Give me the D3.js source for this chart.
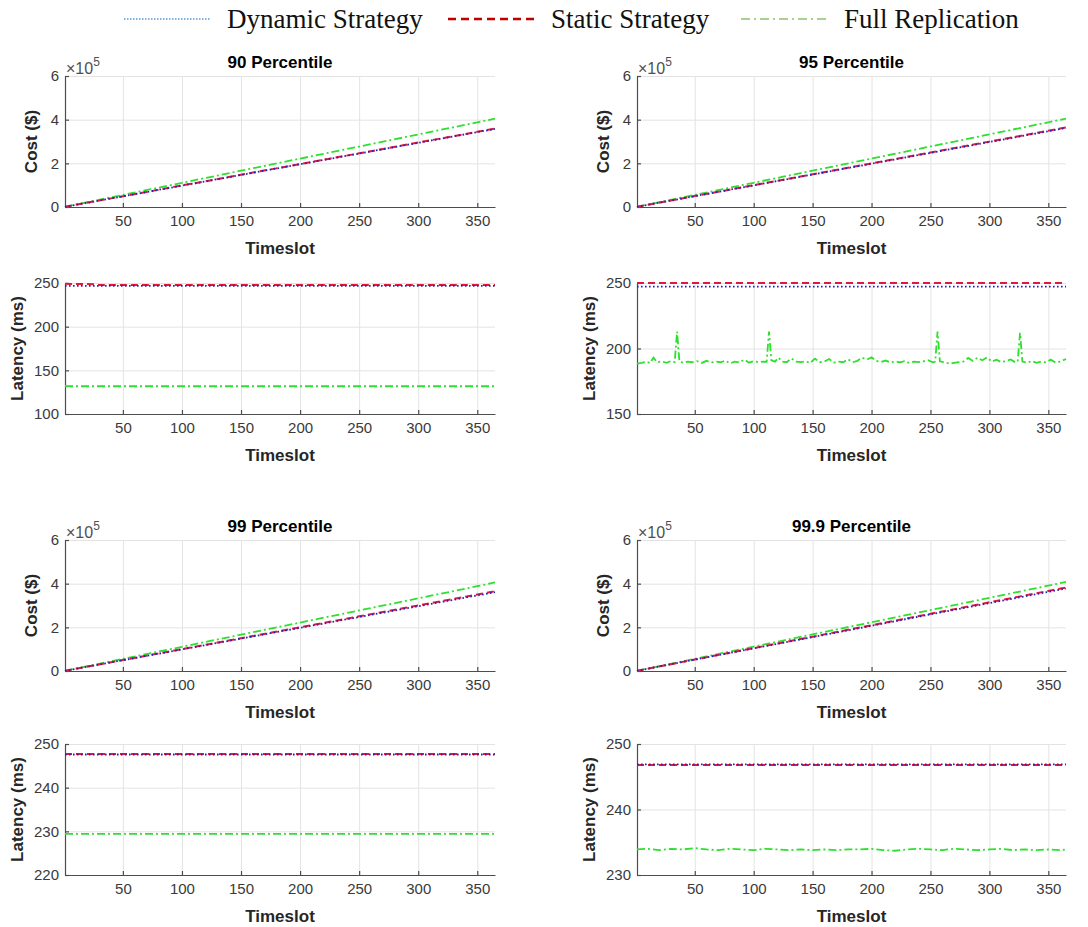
<!DOCTYPE html>
<html>
<head>
<meta charset="utf-8">
<script src="https://cdn.jsdelivr.net/npm/d3@7"></script>
<style>
  body { margin: 0; background: #fff; }
  svg { display: block; }
  .axis text { font-family: 'Liberation Sans', Arial, sans-serif; font-size: 15px; fill: #3a3a3a; }
  .axis path, .axis line { stroke: #4d4d4d; stroke-width: 1.2; }
  .grid line { stroke: #e3e3e3; }
  .grid path { display: none; }
  .grid text { display: none; }
  .lbl { font-family: 'Liberation Sans', Arial, sans-serif; font-weight: bold; font-size: 17px; fill: #262626; }
  .title { font-family: 'Liberation Sans', Arial, sans-serif; font-weight: bold; font-size: 17px; fill: #000; }
  .legend text { font-family: 'Palatino Linotype', 'Book Antiqua', 'Liberation Serif', serif; font-size: 27px; fill: #111; }
</style>
</head>
<body>
<svg id="chart" width="1088" height="927"></svg>
<script>
const titles = ['90 Percentile', '95 Percentile', '99 Percentile', '99.9 Percentile'];
const legendNames = ['Dynamic Strategy', 'Static Strategy', 'Full Replication'];

// cumulative cost, read every 25 timeslots
const costSlots = [1, 25, 50, 75, 100, 125, 150, 175, 200, 225, 250, 275, 300, 325, 350, 365];
const costDyn90 = [900, 24300, 48800, 73200, 97900, 122300, 146900, 171400, 196000, 220400, 244900, 269500, 294000, 318400, 343000, 357500];
const costSta90 = [1000, 24700, 49300, 73900, 98600, 123000, 147600, 172200, 196900, 221400, 245900, 270500, 295100, 319700, 344200, 359000];
const costFull90 = [1100, 27700, 55400, 83000, 110800, 138500, 166200, 193900, 221600, 249300, 277000, 304700, 332400, 360100, 387800, 404500];
const costDyn95 = [900, 24700, 49500, 74300, 99100, 123900, 148700, 173500, 198300, 223100, 247900, 272700, 297500, 322300, 347100, 362000];
const costSta95 = [1000, 25000, 50000, 74900, 99900, 124800, 149800, 174700, 199700, 224600, 249600, 274500, 299500, 324400, 349400, 364500];
const costFull95 = [1100, 27700, 55400, 83100, 110900, 138600, 166300, 194000, 221700, 249500, 277200, 304900, 332600, 360300, 388000, 405000];
const costDyn99 = [900, 24700, 49400, 74100, 98900, 123600, 148300, 173000, 197800, 222500, 247200, 271900, 296700, 321400, 346100, 361000];
const costSta99 = [1000, 25000, 50100, 75100, 100100, 125100, 150200, 175200, 200200, 225200, 250300, 275300, 300300, 325300, 350400, 365500];
const costFull99 = [1100, 27700, 55500, 83200, 110900, 138700, 166400, 194100, 221900, 249600, 277300, 305100, 332800, 360500, 388300, 405500];
const costDyn999 = [1000, 25900, 51800, 77700, 103600, 129500, 155400, 181300, 207200, 233100, 259000, 284900, 310800, 336700, 362600, 378000];
const costSta999 = [1000, 26200, 52400, 78600, 104800, 131000, 157200, 183400, 209600, 235800, 262000, 288200, 314400, 340600, 366800, 382000];
const costFull999 = [1100, 27900, 55800, 83700, 111700, 139600, 167500, 195400, 223300, 251200, 279200, 307100, 335000, 362900, 390800, 408000];

// latency
const flatSlots = [1, 365];
const latDyn90 = [246.8, 246.8];
const staSlots90 = [1, 28, 30, 365];
const latSta90 = [249.0, 248.6, 247.6, 247.6];
const latFull90 = [131.8, 131.8];

const latDyn95 = [247.2, 247.2];
const latSta95 = [250, 250];
const fullSlots95 = [1, 5, 9, 12, 15, 18, 22, 26, 30, 33, 35, 37, 40, 44, 48, 52, 56, 60, 64, 68, 72, 76, 80, 84, 88, 92, 96, 100,
  104, 108, 111, 113, 115, 118, 121, 124, 128, 132, 136, 140, 144, 148, 152, 156, 160, 164, 168, 172, 176, 180, 184, 188, 192, 196,
  200, 204, 208, 212, 216, 220, 224, 228, 232, 236, 240, 244, 248, 252, 254, 256, 258, 262, 266, 270, 274, 278, 282, 286, 290, 294,
  298, 302, 306, 310, 314, 318, 322, 324, 326, 328, 332, 336, 340, 344, 348, 352, 356, 360, 365];
const latFull95 = [188.5, 189, 190, 188.8, 193, 189.5, 190.2, 189, 190.5, 189.6, 213, 190, 189.2, 190, 189.5, 190.4, 189, 190.6, 189.3, 190, 189.5, 190.8, 188.6, 190, 189.4, 191.5, 189.2, 190.3,
  189.6, 190, 189.8, 213, 191, 190, 193, 190, 189.5, 192.5, 190, 189.6, 190.2, 189, 192.3, 189.5, 190, 192, 189.2, 190, 189.5, 191.8, 189.5, 190.6, 193, 191.5,
  193.2, 190.5, 189.7, 190.8, 189.4, 190, 189.5, 190.4, 189, 190, 189.6, 190.2, 191, 189.5, 190, 213, 190.2, 189.5, 188.4, 189, 189.6, 190, 192.8, 190.5, 193, 191,
  193.2, 190, 191.5, 189.6, 190.4, 191.6, 189.5, 190, 212, 190, 189.2, 190.4, 189, 190, 189.4, 191.5, 189.3, 190, 192];

const latDyn99 = [247.6, 247.6];
const latSta99 = [247.7, 247.7];
const latFull99 = [229.4, 229.4];

const latDyn999 = [246.9, 246.9];
const latSta999 = [246.8, 246.8];
const fullSlots999 = [1, 10, 20, 30, 40, 50, 60, 70, 80, 90, 100, 110, 120, 130, 140, 150, 160, 170, 180, 190, 200,
  210, 220, 230, 240, 250, 260, 270, 280, 290, 300, 310, 320, 330, 340, 350, 360, 365];
const latFull999 = [233.9, 234.0, 233.8, 234.0, 233.9, 234.1, 233.9, 233.8, 234.0, 233.9, 233.8, 234.0, 233.9, 233.8, 233.9, 233.8, 233.9, 233.8, 233.9, 233.9, 234.0,
  233.8, 233.7, 233.9, 234.0, 233.9, 233.8, 234.0, 233.9, 233.8, 233.9, 234.0, 233.8, 233.9, 233.8, 233.9, 233.8, 233.9];

const latDomains = [[100, 250], [150, 250], [220, 250], [230, 250]];
const latTicks = [[100, 150, 200, 250], [150, 200, 250], [220, 230, 240, 250], [230, 240, 250]];
const costTicks = [0, 200000, 400000, 600000];
const xTicks = [50, 100, 150, 200, 250, 300, 350];

const styles = {
  dyn: { color: '#2626b4', dash: '1.6,2.4', width: 1.8 },
  sta: { color: '#e3173e', dash: '7,4', width: 2 },
  full: { color: '#2ee02e', dash: '8,3,2,3', width: 1.8 }
};

const zip = (xs, ys) => xs.map((x, i) => ({ x, y: ys[i] }));

const panels = [
  {
    cost: [['full', zip(costSlots, costFull90)], ['sta', zip(costSlots, costSta90)], ['dyn', zip(costSlots, costDyn90)]],
    lat: [['full', zip(flatSlots, latFull90)], ['sta', zip(staSlots90, latSta90)], ['dyn', zip(flatSlots, latDyn90)]]
  },
  {
    cost: [['full', zip(costSlots, costFull95)], ['sta', zip(costSlots, costSta95)], ['dyn', zip(costSlots, costDyn95)]],
    lat: [['full', zip(fullSlots95, latFull95)], ['sta', zip(flatSlots, latSta95)], ['dyn', zip(flatSlots, latDyn95)]]
  },
  {
    cost: [['full', zip(costSlots, costFull99)], ['sta', zip(costSlots, costSta99)], ['dyn', zip(costSlots, costDyn99)]],
    lat: [['full', zip(flatSlots, latFull99)], ['sta', zip(flatSlots, latSta99)], ['dyn', zip(flatSlots, latDyn99)]]
  },
  {
    cost: [['full', zip(costSlots, costFull999)], ['sta', zip(costSlots, costSta999)], ['dyn', zip(costSlots, costDyn999)]],
    lat: [['full', zip(fullSlots999, latFull999)], ['sta', zip(flatSlots, latSta999)], ['dyn', zip(flatSlots, latDyn999)]]
  }
];

const cols = [{ x0: 65, x1: 495 }, { x0: 637, x1: 1066 }];
const costTops = [76, 540];
const latTops = [283, 744];
const plotH = 131;

const svg = d3.select('#chart');

function drawAxes(g, x, y, yTicks, yFmt, w, h) {
  g.append('g').attr('class', 'grid')
    .attr('transform', `translate(0,${h})`)
    .call(d3.axisBottom(x).tickValues(xTicks).tickSize(-h).tickFormat(''));
  g.append('g').attr('class', 'grid')
    .call(d3.axisLeft(y).tickValues(yTicks).tickSize(-w).tickFormat(''));

  g.append('g').attr('class', 'axis')
    .attr('transform', `translate(0,${h})`)
    .call(d3.axisBottom(x).tickValues(xTicks).tickSizeInner(-4).tickSizeOuter(0).tickPadding(8));
  g.append('g').attr('class', 'axis')
    .call(d3.axisLeft(y).tickValues(yTicks).tickSizeInner(-4).tickSizeOuter(0).tickPadding(6).tickFormat(yFmt));
}

function drawLines(g, x, y, series) {
  const line = d3.line().x(d => x(d.x)).y(d => y(d.y));
  series.forEach(([key, data]) => {
    const s = styles[key];
    g.append('path')
      .attr('d', line(data))
      .attr('fill', 'none')
      .attr('stroke', s.color)
      .attr('stroke-width', s.width)
      .attr('stroke-dasharray', s.dash);
  });
}

panels.forEach((p, i) => {
  const col = cols[i % 2];
  const row = Math.floor(i / 2);
  const w = col.x1 - col.x0;
  const x = d3.scaleLinear().domain([1, 365]).range([0, w]);

  // cost
  const gc = svg.append('g').attr('transform', `translate(${col.x0},${costTops[row]})`);
  const yc = d3.scaleLinear().domain([0, 600000]).range([plotH, 0]);
  drawAxes(gc, x, yc, costTicks, d => d / 100000, w, plotH);
  drawLines(gc, x, yc, p.cost);

  gc.append('text').attr('class', 'title')
    .attr('x', w / 2).attr('y', -8)
    .attr('text-anchor', 'middle')
    .text(titles[i]);

  const exp = gc.append('text')
    .attr('x', 1).attr('y', -2)
    .style('font-family', "'Liberation Sans', Arial, sans-serif")
    .style('font-size', '16px')
    .style('fill', '#505050');
  exp.append('tspan').text('\u00d710');
  exp.append('tspan').attr('dy', -8).style('font-size', '12px').text('5');

  gc.append('text').attr('class', 'lbl')
    .attr('transform', `translate(-28,${plotH / 2}) rotate(-90)`)
    .attr('text-anchor', 'middle')
    .text('Cost ($)');
  gc.append('text').attr('class', 'lbl')
    .attr('x', w / 2).attr('y', plotH + 47)
    .attr('text-anchor', 'middle')
    .text('Timeslot');

  // latency
  const gl = svg.append('g').attr('transform', `translate(${col.x0},${latTops[row]})`);
  const yl = d3.scaleLinear().domain(latDomains[i]).range([plotH, 0]);
  drawAxes(gl, x, yl, latTicks[i], d => d, w, plotH);
  drawLines(gl, x, yl, p.lat);

  gl.append('text').attr('class', 'lbl')
    .attr('transform', `translate(-42,${plotH / 2}) rotate(-90)`)
    .attr('text-anchor', 'middle')
    .text('Latency (ms)');
  gl.append('text').attr('class', 'lbl')
    .attr('x', w / 2).attr('y', plotH + 47)
    .attr('text-anchor', 'middle')
    .text('Timeslot');
});

// legend
const legendItems = [
  { name: legendNames[0], x: 124, color: '#5b9bd5', dash: '1.5,1.5', width: 1.6 },
  { name: legendNames[1], x: 448, color: '#c00000', dash: '8,5', width: 2.5 },
  { name: legendNames[2], x: 741, color: '#a9d18e', dash: '9,4,2,4', width: 1.8 }
];
const lg = svg.append('g').attr('class', 'legend');
legendItems.forEach(d => {
  lg.append('line')
    .attr('x1', d.x).attr('x2', d.x + 87)
    .attr('y1', 19).attr('y2', 19)
    .attr('stroke', d.color)
    .attr('stroke-width', d.width)
    .attr('stroke-dasharray', d.dash);
  lg.append('text')
    .attr('x', d.x + 103).attr('y', 28)
    .text(d.name);
});
</script>
</body>
</html>
